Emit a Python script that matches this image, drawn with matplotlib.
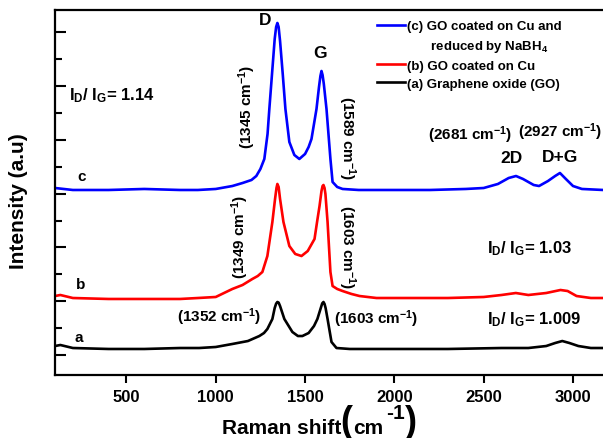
import numpy as np
import matplotlib.pyplot as plt

plt.rcParams['font.family'] = ['Liberation Sans', 'DejaVu Sans']
plt.rcParams['mathtext.fontset'] = 'custom'
plt.rcParams['mathtext.rm'] = 'Liberation Sans'
plt.rcParams['mathtext.bf'] = 'Liberation Sans:bold'
plt.rcParams['mathtext.it'] = 'Liberation Sans:italic'
plt.rcParams['mathtext.default'] = 'regular'

# (a) graphene oxide
x_a = [100, 130, 200, 400, 600, 800, 907, 1000, 1093, 1180, 1244, 1270, 1289, 1317, 1330, 1338, 1345,
       1352, 1360, 1384, 1429, 1460, 1485, 1520, 1550, 1569, 1588, 1596, 1603, 1609, 1615, 1626, 1648,
       1676, 1750, 2000, 2300, 2600, 2750, 2850, 2900, 2940, 2980, 3030, 3100, 3170]
y_a = [167, 186, 130, 112, 112, 130, 130, 149, 205, 260, 353, 409, 484, 670, 874, 955, 986,
       975, 911, 670, 428, 353, 353, 409, 539, 670, 874, 960, 986, 950, 874, 670, 242,
       130, 112, 112, 112, 130, 130, 167, 223, 260, 223, 167, 130, 130]

# (b) GO coated on Cu
x_b = [100, 130, 200, 400, 600, 800, 900, 1000, 1093, 1150, 1205, 1235, 1261, 1289, 1303, 1317, 1332,
       1340, 1345, 1352, 1360, 1379, 1412, 1445, 1480, 1515, 1553, 1568, 1581, 1592, 1598, 1603, 1609,
       1614, 1626, 1642, 1654, 1680, 1710, 1760, 1805, 1900, 2100, 2300, 2500, 2600, 2680, 2750, 2850,
       2930, 2970, 3020, 3100, 3170]
y_b = [1097, 1116, 1060, 1042, 1042, 1042, 1060, 1079, 1228, 1302, 1414, 1469, 1544, 1841, 2158, 2474, 2902,
       3107, 3181, 3125, 2902, 2474, 2027, 1879, 1841, 1934, 2158, 2492, 2771, 3050, 3143, 3162, 3107,
       2995, 2474, 1544, 1283, 1228, 1190, 1135, 1097, 1060, 1060, 1060, 1079, 1116, 1153, 1116, 1153,
       1209, 1190, 1097, 1060, 1060]

# (c) GO coated on Cu and reduced by NaBH4
x_c = [100, 200, 400, 600, 800, 900, 1000, 1093, 1150, 1200, 1227, 1250, 1272, 1290, 1300, 1315, 1330,
       1338, 1345, 1352, 1360, 1375, 1390, 1412, 1440, 1468, 1500, 1520, 1536, 1550, 1564, 1578, 1586,
       1592, 1598, 1605, 1620, 1642, 1654, 1680, 1710, 1800, 2000, 2200, 2400, 2500, 2580, 2640, 2681,
       2720, 2780, 2810, 2860, 2900, 2927, 2960, 3000, 3050, 3170]
y_c = [3106, 3069, 3069, 3088, 3069, 3069, 3088, 3143, 3199, 3255, 3329, 3460, 3646, 4111, 4576, 5227, 5878,
       6101, 6175, 6101, 5840, 5227, 4576, 3962, 3720, 3646, 3739, 3869, 4018, 4297, 4576, 4985, 5190,
       5282, 5208, 5041, 4576, 3646, 3218, 3125, 3088, 3069, 3069, 3069, 3088, 3106, 3181, 3292, 3329,
       3274, 3162, 3143, 3236, 3329, 3385, 3274, 3143, 3088, 3069]

labels = ['(c) GO coated on Cu and', '\u2002\u2002\u2002 reduced by NaBH$_4$',
          '(b) GO coated on Cu', '(a) Graphene oxide (GO)']

fig = plt.figure(figsize=(6.03, 4.39), dpi=100)
ax = fig.add_axes([0.0912, 0.1435, 0.9088, 0.8315])

lc, = ax.plot(x_c, y_c, color='#0000ff', lw=1.9)
lb, = ax.plot(x_b, y_b, color='#ff0000', lw=1.9)
la, = ax.plot(x_a, y_a, color='black', lw=1.9)

ax.set_xlim(100, 3168)
ax.set_ylim(-372, 6417)
ax.set_xticks([500, 1000, 1500, 2000, 2500, 3000])
ax.set_yticks(np.arange(0, 7000, 1000))
ax.set_yticks(np.arange(500, 6500, 1000), minor=True)
ax.tick_params(axis='x', direction='out', length=6, width=1.5, pad=4, labelsize=12)
ax.tick_params(axis='y', which='major', direction='in', length=8, width=1.5, labelleft=False)
ax.tick_params(axis='y', which='minor', direction='in', length=5, width=1.5)
for lab in ax.get_xticklabels():
    lab.set_fontweight('bold')
for s in ['left', 'bottom', 'top']:
    ax.spines[s].set_linewidth(1.6)
ax.spines['right'].set_visible(False)

ax.set_ylabel('Intensity (a.u)', fontsize=15, fontweight='bold')
ax.yaxis.set_label_coords(-0.049, 0.479)

# x label built from pieces so the brackets can be large
W, H = 603.0, 439.0
fig.text(222 / W, 1 - 434 / H, 'Raman shift', fontsize=15, fontweight='bold', ha='left', va='baseline')
fig.text(340 / W, 1 - 432 / H, '(', fontsize=26, fontweight='bold', ha='left', va='baseline')
fig.text(353 / W, 1 - 434 / H, 'cm', fontsize=15, fontweight='bold', ha='left', va='baseline')
fig.text(386 / W, 1 - 419 / H, '-1', fontsize=15, fontweight='bold', ha='left', va='baseline')
fig.text(405 / W, 1 - 432 / H, ')', fontsize=26, fontweight='bold', ha='left', va='baseline')

blank, = ax.plot([], [], color='none')
ax.legend([lc, blank, lb, la], labels, loc='upper left', bbox_to_anchor=(0.5876, 0.972),
          frameon=False, borderpad=0, borderaxespad=0, handlelength=2.1, handletextpad=0.2,
          labelspacing=0.42, prop={'size': 9.5, 'weight': 'bold'})

ax.text(1278, 6240, 'D', fontsize=12.5, fontweight='bold', ha='center', va='center')
ax.text(1585, 5620, 'G', fontsize=12.5, fontweight='bold', ha='center', va='center')
ax.text(2658, 3664, '2D', fontsize=12.5, fontweight='bold', ha='center', va='center')
ax.text(2927, 3701, 'D+G', fontsize=12.5, fontweight='bold', ha='center', va='center')

ann = dict(fontsize=11, fontweight='bold', ha='center', va='center')
ax.text(1175, 4641, '(1345 cm$^{-1}$)', rotation=90, **ann)
ax.text(1732, 4055, '(1589 cm$^{-1}$)', rotation=270, **ann)
ax.text(1136, 2213, '(1349 cm$^{-1}$)', rotation=90, **ann)
ax.text(1732, 2027, '(1603 cm$^{-1}$)', rotation=270, **ann)
ax.text(1020, 725, '(1352 cm$^{-1}$)', **ann)
ax.text(1900, 688, '(1603 cm$^{-1}$)', **ann)
ax.text(2422, 4111, '(2681 cm$^{-1}$)', **ann)
ax.text(2928, 4166, '(2927 cm$^{-1}$)', clip_on=False, **ann)

ax.text(251, 3329, 'c', fontsize=11, fontweight='bold', ha='center', va='center')
ax.text(246, 1321, 'b', fontsize=11, fontweight='bold', ha='center', va='center')
ax.text(234, 335, 'a', fontsize=11, fontweight='bold', ha='center', va='center')

ax.text(178, 4762, r'I$_D$/ I$_G$= 1.14', fontsize=12, fontweight='bold', ha='left', va='baseline')
ax.text(2518, 1916, r'I$_D$/ I$_G$= 1.03', fontsize=12, fontweight='bold', ha='left', va='baseline')
ax.text(2518, 595, r'I$_D$/ I$_G$= 1.009', fontsize=12, fontweight='bold', ha='left', va='baseline')

fig.savefig('out.png', dpi=100)
